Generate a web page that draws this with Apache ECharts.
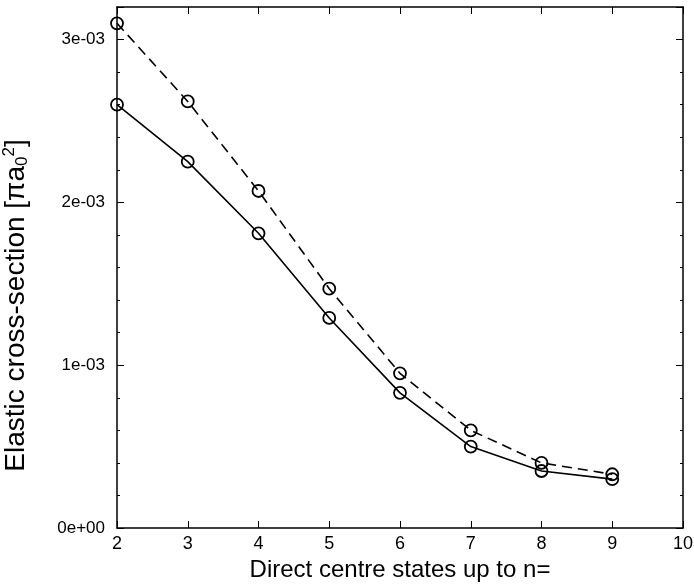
<!DOCTYPE html>
<html>
<head>
<meta charset="utf-8">
<script src="https://cdn.jsdelivr.net/npm/echarts@6/dist/echarts.min.js"></script>
<style>
  html, body { margin: 0; padding: 0; background: #fff; }
  #chart { width: 694px; height: 584px; }
</style>
</head>
<body>
<div id="chart"></div>
<script>
// n of the highest direct-centre state included
const nValues = [2, 3, 4, 5, 6, 7, 8, 9];
// elastic cross-section, units of pi a0^2
const dashedSeries = [3.10e-3, 2.62e-3, 2.07e-3, 1.47e-3, 0.95e-3, 0.60e-3, 0.40e-3, 0.33e-3];
const solidSeries  = [2.60e-3, 2.25e-3, 1.81e-3, 1.29e-3, 0.83e-3, 0.50e-3, 0.35e-3, 0.30e-3];

const font = 'Liberation Sans, Arial, Helvetica, sans-serif';

function sciLabel(v) {
  if (Math.abs(v) < 1e-12) return '0e+00';
  const exp = Math.floor(Math.log10(Math.abs(v)) + 1e-9);
  const mant = Math.round(v / Math.pow(10, exp));
  const sign = exp < 0 ? '-' : '+';
  const e = Math.abs(exp);
  return mant + 'e' + sign + (e < 10 ? '0' + e : e);
}

const pairs = (ys) => nValues.map((x, i) => [x, ys[i]]);

const chart = echarts.init(document.getElementById('chart'), null, { renderer: 'canvas' });

const frameLine = { show: true, onZero: false, lineStyle: { color: '#000', width: 1.5 } };
const majorTick = { show: true, inside: true, length: 7, lineStyle: { color: '#000', width: 1 } };
const minorTick = { show: true, splitNumber: 5, length: 3, lineStyle: { color: '#000', width: 1 } };

chart.setOption({
  backgroundColor: '#fff',
  animation: false,
  grid: { left: 117, right: 11, top: 7, bottom: 56, outerBoundsMode: 'none', containLabel: false },
  xAxis: [
    {
      type: 'value', min: 2, max: 10, interval: 1, position: 'bottom',
      axisLine: frameLine,
      axisTick: majorTick,
      axisLabel: { color: '#000', fontFamily: font, fontSize: 18, margin: 7 },
      splitLine: { show: false },
      name: 'Direct centre states up to n=',
      nameLocation: 'middle', nameGap: 24,
      nameTextStyle: { color: '#000', fontFamily: font, fontSize: 24, verticalAlign: 'top' }
    },
    {
      type: 'value', min: 2, max: 10, interval: 1, position: 'top',
      axisLine: frameLine,
      axisTick: majorTick,
      axisLabel: { show: false },
      splitLine: { show: false }
    }
  ],
  yAxis: [
    {
      type: 'value', min: 0, max: 3.2e-3, interval: 1e-3, position: 'left',
      axisLine: frameLine,
      axisTick: majorTick,
      minorTick: minorTick,
      axisLabel: {
        color: '#000', fontFamily: font, fontSize: 17, margin: 12,
        showMaxLabel: false, formatter: sciLabel
      },
      splitLine: { show: false },
      name: '{t|Elastic cross-section [πa}{sub|0}{sup|2}{t|]}',
      nameLocation: 'middle', nameGap: 86, nameRotate: 90,
      nameTextStyle: {
        color: '#000', fontFamily: font, fontSize: 28, verticalAlign: 'bottom',
        padding: [0, 76, 0, 0],
        rich: {
          t: { fontFamily: font, fontSize: 28, color: '#000' },
          sub: { fontFamily: font, fontSize: 17, color: '#000', verticalAlign: 'bottom', padding: [11, 0, 0, 0] },
          sup: { fontFamily: font, fontSize: 17, color: '#000', verticalAlign: 'top', padding: [0, 0, 13, 0] }
        }
      }
    },
    {
      type: 'value', min: 0, max: 3.2e-3, interval: 1e-3, position: 'right',
      axisLine: frameLine,
      axisTick: majorTick,
      minorTick: minorTick,
      axisLabel: { show: false },
      splitLine: { show: false }
    }
  ],
  series: [
    {
      name: 'dashed', type: 'line', data: pairs(dashedSeries),
      symbol: 'circle', symbolSize: 12, showAllSymbol: true,
      lineStyle: { color: '#000', width: 1.6, type: [10, 6] },
      itemStyle: { color: 'rgba(0,0,0,0)', borderColor: '#000', borderWidth: 1.8 }
    },
    {
      name: 'solid', type: 'line', data: pairs(solidSeries),
      symbol: 'circle', symbolSize: 12, showAllSymbol: true,
      lineStyle: { color: '#000', width: 1.6, type: 'solid' },
      itemStyle: { color: 'rgba(0,0,0,0)', borderColor: '#000', borderWidth: 1.8 }
    }
  ]
});
</script>
</body>
</html>
